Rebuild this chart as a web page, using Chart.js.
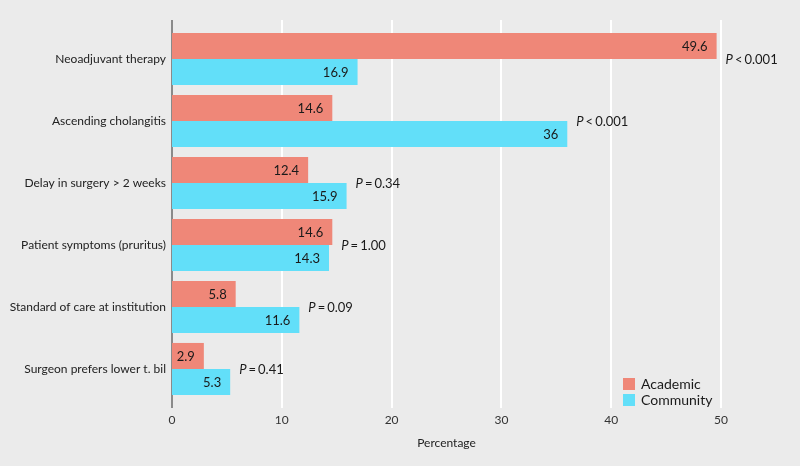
<!DOCTYPE html>
<html><head><meta charset="utf-8">
<script src="https://cdn.jsdelivr.net/npm/chart.js@4"></script>
<style>html,body{margin:0;padding:0;background:#ebebeb}</style>
</head><body>
<canvas id="c" width="800" height="466" style="width:800px;height:466px;display:block"></canvas>
<script>
const categories = ['Neoadjuvant therapy','Ascending cholangitis','Delay in surgery > 2 weeks','Patient symptoms (pruritus)','Standard of care at institution','Surgeon prefers lower t. bil'];
const academic = [49.6, 14.6, 12.4, 14.6, 5.8, 2.9];
const community = [16.9, 36, 15.9, 14.3, 11.6, 5.3];
const pValues = ['< 0.001', '< 0.001', '= 0.34', '= 1.00', '= 0.09', '= 0.41'];
const xTicks = [0, 10, 20, 30, 40, 50];
const seriesNames = ['Academic', 'Community'];
const colors = ['#EF8778', '#62DFF9'];

const FONT = 'Lato, "Open Sans", sans-serif';

const bgPlugin = {
  id: 'bg',
  beforeDraw(chart) {
    const ctx = chart.ctx;
    ctx.save();
    ctx.fillStyle = '#ebebeb';
    ctx.fillRect(0, 0, chart.width, chart.height);
    ctx.restore();
  }
};

const gridPlugin = {
  id: 'grid2',
  beforeDatasetsDraw(chart) {
    const ctx = chart.ctx, xs = chart.scales.x, a = chart.chartArea;
    ctx.save();
    ctx.strokeStyle = '#ffffff';
    ctx.lineWidth = 2;
    xTicks.forEach(v => {
      if (v === 0) return;
      const px = Math.round(xs.getPixelForValue(v));
      ctx.beginPath();
      ctx.moveTo(px, a.top - 8);
      ctx.lineTo(px, a.bottom + 8);
      ctx.stroke();
    });
    ctx.strokeStyle = '#8a8a8a';
    const x0 = Math.round(xs.getPixelForValue(0));
    ctx.beginPath();
    ctx.moveTo(x0, a.top - 8);
    ctx.lineTo(x0, a.bottom + 8);
    ctx.stroke();
    ctx.restore();
  }
};

const labelPlugin = {
  id: 'labels2',
  afterDatasetsDraw(chart) {
    const ctx = chart.ctx, ys = chart.scales.y;
    ctx.save();
    ctx.fillStyle = '#1a1a1a';
    ctx.textBaseline = 'middle';
    ctx.font = '13px ' + FONT;
    ctx.textAlign = 'right';
    const m0 = chart.getDatasetMeta(0).data, m1 = chart.getDatasetMeta(1).data;
    [m0, m1].forEach((els, di) => {
      const vals = di === 0 ? academic : community;
      els.forEach((el, i) => {
        ctx.fillText(String(vals[i]), el.x - 9, el.y + 1);
      });
    });
    ctx.textAlign = 'left';
    categories.forEach((c, i) => {
      const xEnd = Math.max(m0[i].x, m1[i].x) + 9;
      const y = ys.getPixelForValue(i) + 1;
      ctx.font = 'italic 13px ' + FONT;
      ctx.fillText('P', xEnd, y);
      const w = ctx.measureText('P').width;
      ctx.font = '13px ' + FONT;
      const parts = pValues[i].split(' ');
      ctx.fillText(parts[0], xEnd + w + 2, y);
      const w2 = ctx.measureText(parts[0]).width;
      ctx.fillText(parts[1], xEnd + w + 2 + w2 + 2, y);
    });
    ctx.restore();
  }
};

const legendPlugin = {
  id: 'legend2',
  afterDraw(chart) {
    const ctx = chart.ctx;
    ctx.save();
    ctx.font = '14px ' + FONT;
    ctx.textBaseline = 'middle';
    ctx.textAlign = 'left';
    seriesNames.forEach((n, i) => {
      const y = 378 + i * 16;
      ctx.fillStyle = colors[i];
      ctx.fillRect(623, y, 12, 12);
      ctx.fillStyle = '#1a1a1a';
      ctx.fillText(n, 641, y + 6);
    });
    ctx.restore();
  }
};

new Chart(document.getElementById('c'), {
  type: 'bar',
  data: {
    labels: categories,
    datasets: [
      { label: seriesNames[0], data: academic, backgroundColor: colors[0], categoryPercentage: 0.84, barPercentage: 1 },
      { label: seriesNames[1], data: community, backgroundColor: colors[1], categoryPercentage: 0.84, barPercentage: 1 }
    ]
  },
  options: {
    indexAxis: 'y',
    responsive: false,
    animation: false,
    devicePixelRatio: 1,
    layout: { padding: { top: 28, right: 79, bottom: 0, left: 0 } },
    plugins: { legend: { display: false }, tooltip: { enabled: false } },
    scales: {
      x: {
        type: 'linear', min: 0, max: 50,
        afterBuildTicks(s) { s.ticks = xTicks.map(v => ({ value: v })); },
        afterFit(s) { s.height = 66; },
        grid: { display: false, drawTicks: false },
        border: { display: false },
        ticks: { font: { family: FONT, size: 12 }, color: '#333', padding: 13 },
        title: { display: true, text: 'Percentage', font: { family: FONT, size: 12 }, color: '#222', padding: { top: 0, bottom: 16 } }
      },
      y: {
        afterFit(s) { s.width = 172; },
        grid: { display: false, drawTicks: false },
        border: { display: false },
        ticks: { font: { family: FONT, size: 12 }, color: '#222', padding: 6 }
      }
    }
  },
  plugins: [bgPlugin, gridPlugin, labelPlugin, legendPlugin]
});
</script>
</body></html>
